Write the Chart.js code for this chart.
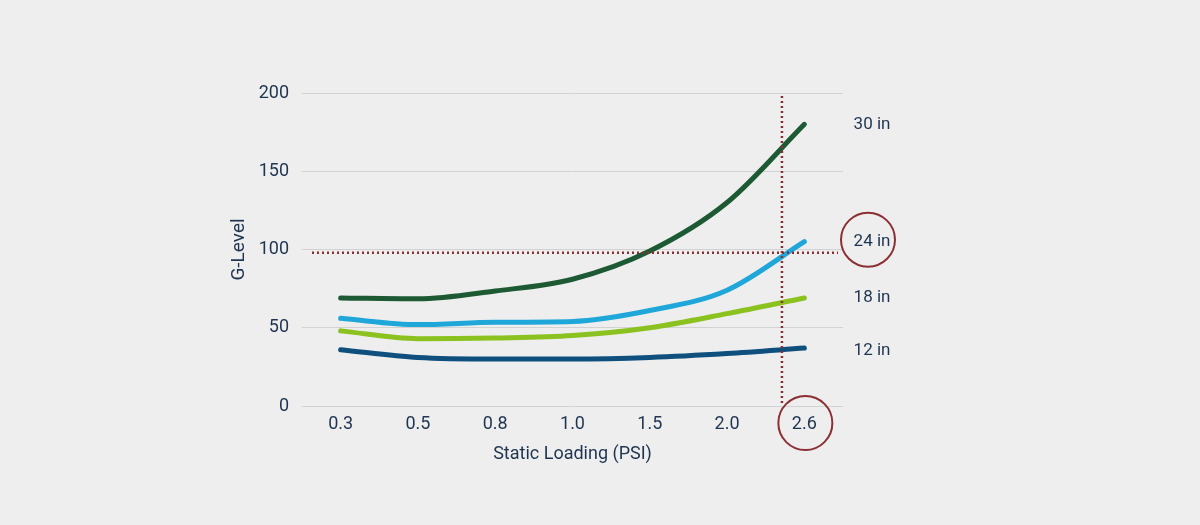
<!DOCTYPE html>
<html>
<head>
<meta charset="utf-8">
<script src="https://cdn.jsdelivr.net/npm/chart.js@4"></script>
<style>
  html, body { margin: 0; padding: 0; background: #eeeeee; }
  #wrap { width: 1200px; height: 525px; }
</style>
</head>
<body>
<div id="wrap"><canvas id="myChart" width="1200" height="525"></canvas></div>
<script>
// categories and series
var loads = ['0.3', '0.5', '0.8', '1.0', '1.5', '2.0', '2.6'];
var g30 = [69, 68.5, 73.5, 81, 99, 130, 180];
var g24 = [56, 52, 53.5, 54, 61, 74, 105];
var g18 = [48, 43, 43.5, 45, 50, 59, 69];
var g12 = [36, 31, 30, 30, 31, 33.5, 37];
var seriesNames = ['30 in', '24 in', '18 in', '12 in'];
var yTicks = [0, 50, 100, 150, 200];

// the dotted guide lines: G-level and position between 2.0 and 2.6
var refLevel = 98;
var refIndex = 5.71;

var textColor = '#1e3450';
var markColor = '#8b2f33';

var annotations = {
    id: 'annotations',
    afterDatasetsDraw: function (chart) {
        var ctx = chart.ctx;
        var x = chart.scales.x;
        var y = chart.scales.y;
        var area = chart.chartArea;
        ctx.save();

        // dotted guides
        ctx.strokeStyle = markColor;
        ctx.lineWidth = 2.5;
        ctx.setLineDash([2, 3]);
        var hy = y.getPixelForValue(refLevel);
        ctx.beginPath();
        ctx.moveTo(area.left + 10, hy);
        ctx.lineTo(area.right - 5, hy);
        ctx.stroke();
        var vx = x.getPixelForValue(refIndex);
        ctx.beginPath();
        ctx.moveTo(vx, area.top + 3);
        ctx.lineTo(vx, area.bottom);
        ctx.stroke();
        ctx.setLineDash([]);

        // series labels on the right
        ctx.font = '17px Roboto';
        ctx.fillStyle = textColor;
        ctx.textAlign = 'center';
        ctx.textBaseline = 'middle';
        var lx = area.right + 29;
        chart.data.datasets.forEach(function (ds, i) {
            var py = y.getPixelForValue(ds.data[ds.data.length - 1]);
            if (i === 3) py += 3;
            ctx.fillText(ds.label, lx, py);
        });

        // circles round "24 in" and "2.6"
        ctx.strokeStyle = markColor;
        ctx.lineWidth = 2;
        var c24 = y.getPixelForValue(g24[g24.length - 1]);
        ctx.beginPath();
        ctx.arc(lx - 4, c24 - 2, 27, 0, Math.PI * 2);
        ctx.stroke();
        var tx = x.getPixelForValue(loads.length - 1);
        ctx.beginPath();
        ctx.arc(tx + 1, area.bottom + 17, 27, 0, Math.PI * 2);
        ctx.stroke();
        ctx.restore();
    }
};

window.onload = function () {
    var ctx = document.getElementById('myChart').getContext('2d');
    Chart.defaults.font.family = 'Roboto';
    var myChart = new Chart(ctx, {
        type: 'line',
        data: {
            labels: loads,
            datasets: [
                { label: seriesNames[0], data: g30, borderColor: '#1d5a34' },
                { label: seriesNames[1], data: g24, borderColor: '#20a7d9' },
                { label: seriesNames[2], data: g18, borderColor: '#8bc21f' },
                { label: seriesNames[3], data: g12, borderColor: '#0f4f7e' }
            ]
        },
        options: {
            responsive: false,
            animation: false,
            layout: { padding: { left: 228, right: 357, top: 93, bottom: 56 } },
            elements: {
                line: { borderWidth: 5, tension: 0.4, borderCapStyle: 'round', cubicInterpolationMode: 'monotone' },
                point: { radius: 0 }
            },
            plugins: { legend: { display: false }, tooltip: { enabled: false } },
            scales: {
                x: {
                    offset: true,
                    grid: { display: false },
                    border: { display: false },
                    ticks: { color: textColor, font: { size: 18 }, padding: 0 },
                    title: { display: true, text: 'Static Loading (PSI)', color: textColor, font: { size: 18 }, padding: { top: 4 } },
                    afterFit: function (axis) { axis.height = 63; }
                },
                y: {
                    min: 0,
                    max: 200,
                    afterBuildTicks: function (axis) {
                        axis.ticks = yTicks.map(function (v) { return { value: v }; });
                    },
                    grid: { color: '#d2d2d2', lineWidth: 1, drawTicks: false },
                    border: { display: false },
                    ticks: { color: textColor, font: { size: 18 }, padding: 13 },
                    title: { display: true, text: 'G-Level', color: textColor, font: { size: 19 }, padding: 0 },
                    afterFit: function (axis) { axis.width = 74; }
                }
            }
        },
        plugins: [annotations]
    });
};
</script>
</body>
</html>
